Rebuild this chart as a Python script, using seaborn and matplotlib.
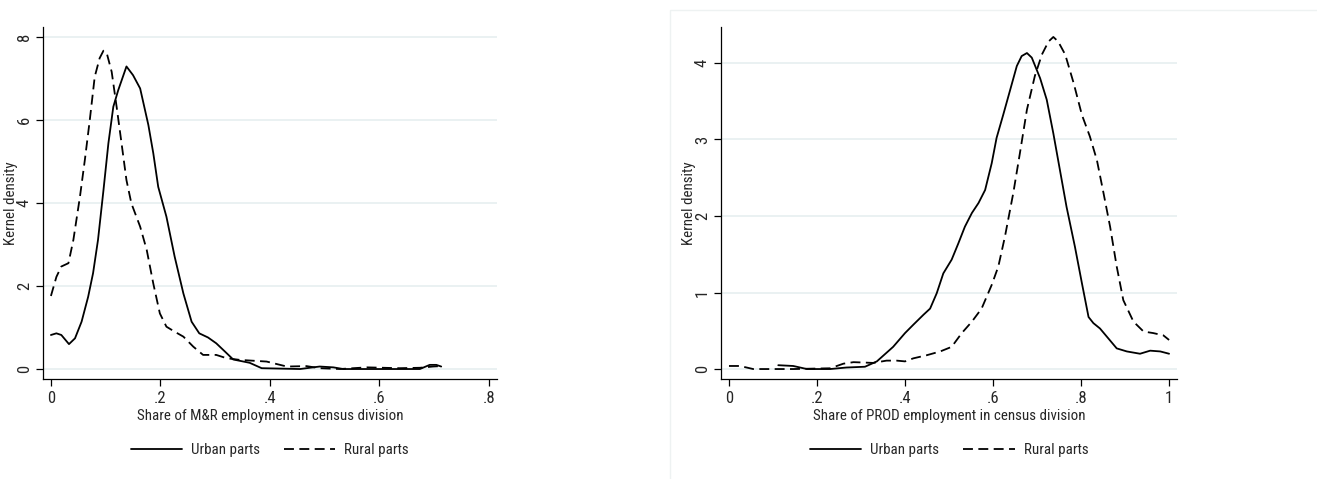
import pandas as pd
import seaborn as sns
import matplotlib.pyplot as plt
from matplotlib import font_manager
from matplotlib.lines import Line2D
from matplotlib.patches import Rectangle

# Left panel: share of M&R employment
mr_urban_x = [0.0, 0.010, 0.019, 0.033, 0.044, 0.056, 0.068, 0.077, 0.086, 0.096, 0.105, 0.114,
              0.123, 0.138, 0.150, 0.163, 0.178, 0.187, 0.196, 0.211, 0.226, 0.242, 0.257, 0.271,
              0.287, 0.302, 0.318, 0.333, 0.363, 0.385, 0.455, 0.491, 0.516, 0.534, 0.674, 0.692,
              0.704, 0.713]
mr_urban_y = [0.82, 0.86, 0.82, 0.60, 0.74, 1.14, 1.74, 2.31, 3.11, 4.31, 5.44, 6.32,
              6.72, 7.29, 7.08, 6.76, 5.88, 5.20, 4.39, 3.67, 2.71, 1.82, 1.14, 0.86,
              0.76, 0.62, 0.42, 0.23, 0.15, 0.02, 0.0, 0.06, 0.04, 0.0, 0.0, 0.10,
              0.10, 0.06]
mr_rural_x = [0.0, 0.010, 0.019, 0.032, 0.041, 0.053, 0.062, 0.071, 0.080, 0.089, 0.096, 0.102,
              0.111, 0.120, 0.129, 0.138, 0.147, 0.163, 0.175, 0.187, 0.199, 0.211, 0.226, 0.242,
              0.260, 0.278, 0.302, 0.321, 0.345, 0.394, 0.431, 0.467, 0.491, 0.528, 0.577, 0.637,
              0.674, 0.698, 0.713]
mr_rural_y = [1.76, 2.22, 2.47, 2.55, 3.11, 4.15, 5.04, 6.00, 7.04, 7.49, 7.67, 7.61,
              7.16, 6.32, 5.44, 4.55, 3.99, 3.43, 2.87, 2.06, 1.34, 1.02, 0.90, 0.78,
              0.54, 0.34, 0.34, 0.26, 0.22, 0.18, 0.06, 0.07, 0.02, 0.0, 0.04, 0.02,
              0.03, 0.06, 0.07]

# Right panel: share of PROD employment
prod_urban_x = [0.112, 0.146, 0.177, 0.230, 0.267, 0.309, 0.336, 0.373, 0.400, 0.419, 0.442, 0.457,
                0.472, 0.487, 0.506, 0.521, 0.536, 0.552, 0.567, 0.582, 0.597, 0.608, 0.623, 0.639,
                0.654, 0.665, 0.677, 0.688, 0.707, 0.722, 0.737, 0.752, 0.767, 0.786, 0.802, 0.817,
                0.828, 0.843, 0.862, 0.881, 0.904, 0.934, 0.957, 0.980, 1.0]
prod_urban_y = [0.05, 0.04, 0.0, 0.0, 0.02, 0.03, 0.10, 0.29, 0.47, 0.58, 0.71, 0.79,
                0.99, 1.25, 1.43, 1.64, 1.86, 2.04, 2.17, 2.34, 2.69, 3.02, 3.32, 3.65,
                3.96, 4.09, 4.13, 4.07, 3.80, 3.52, 3.08, 2.60, 2.12, 1.60, 1.12, 0.68,
                0.60, 0.53, 0.40, 0.27, 0.23, 0.20, 0.24, 0.23, 0.20]
prod_rural_x = [0.0, 0.025, 0.055, 0.146, 0.230, 0.260, 0.283, 0.328, 0.358, 0.381, 0.400, 0.419,
                0.449, 0.480, 0.506, 0.529, 0.552, 0.574, 0.597, 0.612, 0.627, 0.646, 0.661, 0.677,
                0.695, 0.711, 0.726, 0.737, 0.748, 0.764, 0.783, 0.802, 0.820, 0.836, 0.851, 0.866,
                0.881, 0.896, 0.919, 0.942, 0.964, 0.987, 1.0]
prod_rural_y = [0.04, 0.04, 0.0, 0.0, 0.01, 0.07, 0.09, 0.08, 0.11, 0.11, 0.10, 0.14,
                0.18, 0.23, 0.29, 0.47, 0.62, 0.79, 1.10, 1.34, 1.73, 2.30, 2.82, 3.39,
                3.83, 4.11, 4.28, 4.34, 4.28, 4.11, 3.74, 3.32, 3.04, 2.73, 2.30, 1.86,
                1.34, 0.90, 0.62, 0.49, 0.47, 0.44, 0.38]

series_names = ["Urban parts", "Rural parts"]
mr_ticks_x = [0, 0.2, 0.4, 0.6, 0.8]
mr_ticklabels_x = ["0", ".2", ".4", ".6", ".8"]
mr_ticks_y = [0, 2, 4, 6, 8]
prod_ticks_x = [0, 0.2, 0.4, 0.6, 0.8, 1.0]
prod_ticklabels_x = ["0", ".2", ".4", ".6", ".8", "1"]
prod_ticks_y = [0, 1, 2, 3, 4]


def make_df(ux, uy, rx, ry):
    a = pd.DataFrame({"x": ux, "y": uy, "series": series_names[0]})
    b = pd.DataFrame({"x": rx, "y": ry, "series": series_names[1]})
    return pd.concat([a, b], ignore_index=True)


mr_df = make_df(mr_urban_x, mr_urban_y, mr_rural_x, mr_rural_y)
prod_df = make_df(prod_urban_x, prod_urban_y, prod_rural_x, prod_rural_y)

sns.set_theme(style="white")

# the reference text is a narrow Helvetica; use a condensed face if one is installed
installed = {f.name for f in font_manager.fontManager.ttflist}
narrow = [n for n in ["Liberation Sans Narrow", "Roboto Condensed", "Open Sans Condensed"]
          if n in installed]
if narrow:
    plt.rcParams['font.family'] = [narrow[0], 'Liberation Sans', 'DejaVu Sans']
    fs, tfs = 10.8, 12
else:
    plt.rcParams['font.family'] = ['Liberation Sans', 'DejaVu Sans']
    fs, tfs = 10.2, 11.5

fig = plt.figure(figsize=(13.17, 4.79), dpi=100)
ax1 = fig.add_axes([0.0326, 0.2088, 0.3448, 0.7348])
ax2 = fig.add_axes([0.5475, 0.2088, 0.3462, 0.7348])

# faint frame around the right graph
fig.patches.append(Rectangle((0.509, -0.01), 0.5, 0.99, transform=fig.transFigure,
                             fill=False, edgecolor="#eef2f2", linewidth=1.0))

dash = (5.5, 3)
dash_map = {"Urban parts": "", "Rural parts": dash}
grid_col = "#e8f0f1"

panels = [
    (ax1, mr_df, "Share of M&R employment in census division", mr_ticks_x, mr_ticklabels_x,
     mr_ticks_y, (-0.0146, 0.815), (-0.24, 8.24)),
    (ax2, prod_df, "Share of PROD employment in census division", prod_ticks_x, prod_ticklabels_x,
     prod_ticks_y, (-0.018, 1.018), (-0.13, 4.47)),
]

for ax, df, xlabel, xt, xtl, yt, xlim, ylim in panels:
    sns.lineplot(data=df, x="x", y="y", style="series", dashes=dash_map, color="black",
                 estimator=None, sort=False, linewidth=1.3, ax=ax, legend=False)
    for v in yt:
        ax.axhline(v, color=grid_col, linewidth=1.3, zorder=0)
    ax.set_xlim(*xlim)
    ax.set_ylim(*ylim)
    ax.set_xticks(xt)
    ax.set_xticklabels(xtl)
    ax.set_yticks(yt)
    ax.set_yticklabels([str(v) for v in yt], rotation=90, va="center")
    ax.tick_params(axis="both", direction="out", length=5, width=0.9, color="black",
                   labelsize=tfs, bottom=True, left=True)
    ax.tick_params(axis="y", pad=3)
    ax.tick_params(axis="x", pad=4)
    for s in ["top", "right"]:
        ax.spines[s].set_visible(False)
    for s in ["left", "bottom"]:
        ax.spines[s].set_color("black")
        ax.spines[s].set_linewidth(0.9)
    ax.set_xlabel(xlabel, fontsize=fs)
    ax.set_ylabel("Kernel density", fontsize=fs)
    ax.xaxis.set_label_coords(0.5, -0.085)
    ax.yaxis.set_label_coords(-0.056, 0.5)
    handles = [Line2D([], [], color="black", linewidth=1.3),
               Line2D([], [], color="black", linewidth=1.3, linestyle=(0, dash))]
    ax.legend(handles, series_names, loc="center", bbox_to_anchor=(0.5, -0.203),
              ncol=2, frameon=False, fontsize=fs, handlelength=3.42, handletextpad=0.6,
              columnspacing=1.6)

fig.savefig("out.png", dpi=100, facecolor="white")
plt.close(fig)
